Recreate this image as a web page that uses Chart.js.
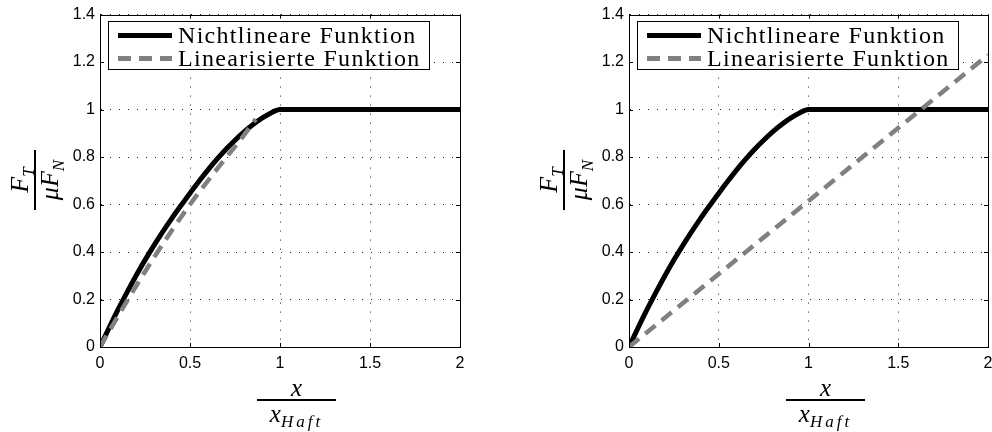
<!DOCTYPE html>
<html>
<head>
<meta charset="utf-8">
<script src="https://cdn.jsdelivr.net/npm/chart.js@4"></script>
<style>
  html,body{margin:0;padding:0;background:#fff;}
  body{width:992px;height:432px;overflow:hidden;position:relative;}
  canvas{position:absolute;top:0;}
  .leg{position:absolute;border:1px solid #000;background:#fff;width:322px;height:49px;box-sizing:border-box;
       font-family:'Liberation Serif','Times New Roman',serif;font-size:24px;color:#000;}
  .leg .s{position:absolute;left:9px;width:54px;height:5px;}
  .leg .s1{background:#000;}
  .leg .s2{background:repeating-linear-gradient(to right,#808080 0 13px,transparent 13px 21px);}
  .leg .t{position:absolute;left:69px;height:24px;line-height:24px;white-space:nowrap;letter-spacing:1.3px;}
  .frac{position:absolute;font-family:'Liberation Serif','Times New Roman',serif;font-style:italic;color:#000;text-align:center;}
  .frac .bar{background:#000;height:2px;}
  .frac sub{font-size:17px;vertical-align:-6px;}
  .yt{width:60px;height:58px;transform:rotate(-90deg);}
  .yt .num,.yt .den{height:28px;line-height:28px;font-size:26px;white-space:nowrap;}
  .xt{width:79px;}
  .xt .num{height:22px;line-height:22px;font-size:25px;}
  .xt .den{height:26px;line-height:26px;font-size:25px;white-space:nowrap;}
  .xt .den sub{letter-spacing:3px;font-size:17px;vertical-align:-5px;}
</style>
</head>
<body>
<canvas id="c1" width="496" height="432" style="left:0;"></canvas>
<canvas id="c2" width="520" height="432" style="left:496px;"></canvas>

<div class="leg" style="left:108px;top:21px;">
  <div class="s s1" style="top:11px;"></div><div class="t" style="top:1px;">Nichtlineare Funktion</div>
  <div class="s s2" style="top:34px;"></div><div class="t" style="top:24px;">Linearisierte Funktion</div>
</div>
<div class="leg" style="left:637px;top:21px;">
  <div class="s s1" style="top:11px;"></div><div class="t" style="top:1px;">Nichtlineare Funktion</div>
  <div class="s s2" style="top:34px;"></div><div class="t" style="top:24px;">Linearisierte Funktion</div>
</div>

<div class="frac yt" style="left:5px;top:151px;">
  <div class="num">F<sub>T</sub></div><div class="bar"></div><div class="den">μF<sub>N</sub></div>
</div>
<div class="frac yt" style="left:534px;top:151px;">
  <div class="num">F<sub>T</sub></div><div class="bar"></div><div class="den">μF<sub>N</sub></div>
</div>

<div class="frac xt" style="left:257px;top:377px;">
  <div class="num">x</div><div class="bar"></div><div class="den">x<sub>Haft</sub></div>
</div>
<div class="frac xt" style="left:786px;top:377px;">
  <div class="num">x</div><div class="bar"></div><div class="den">x<sub>Haft</sub></div>
</div>

<script>
// ---- data ----
const xNonlin = [0, 0.05, 0.1, 0.15, 0.2, 0.25, 0.3, 0.35, 0.4, 0.45, 0.5, 0.55, 0.6, 0.65, 0.7, 0.75, 0.8, 0.85, 0.9, 0.95, 1.0, 2.0];
const yNonlin = [0, 0.080, 0.157, 0.230, 0.300, 0.366, 0.428, 0.487, 0.543, 0.596, 0.648, 0.698, 0.746, 0.791, 0.833, 0.871, 0.906, 0.937, 0.964, 0.986, 1.0, 1.0];

const xLinLeft = [0, 0.1, 0.2, 0.3, 0.4, 0.5, 0.6, 0.7, 0.8, 0.865];
const yLinLeft = [0, 0.13, 0.256, 0.377, 0.492, 0.600, 0.701, 0.797, 0.892, 0.96];

const xLinRight = [0, 2];
const yLinRight = [0, 1.23];

const xTicks = [0, 0.5, 1, 1.5, 2];
const xTickLabels = ['0', '0.5', '1', '1.5', '2'];
const yTicks = [0, 0.2, 0.4, 0.6, 0.8, 1.0, 1.2, 1.4];
const yTickLabels = ['0', '0.2', '0.4', '0.6', '0.8', '1', '1.2', '1.4'];

const seriesNames = ['Nichtlineare Funktion', 'Linearisierte Funktion'];

function pts(xs, ys) { return xs.map((x, i) => ({ x: x, y: ys[i] })); }

const frameTicks = {
  id: 'frameTicks',
  afterDraw(chart) {
    const ctx = chart.ctx, a = chart.chartArea;
    const sx = chart.scales.x, sy = chart.scales.y;
    ctx.save();
    ctx.strokeStyle = '#000';
    ctx.lineWidth = 1;
    ctx.beginPath();
    ctx.rect(Math.round(a.left) + 0.5, Math.round(a.top) + 0.5, Math.round(a.right - a.left), Math.round(a.bottom - a.top));
    const L = 4;
    xTicks.forEach(v => {
      const p = Math.round(sx.getPixelForValue(v)) + 0.5;
      ctx.moveTo(p, a.bottom); ctx.lineTo(p, a.bottom - L);
      ctx.moveTo(p, a.top); ctx.lineTo(p, a.top + L);
    });
    yTicks.forEach(v => {
      const p = Math.round(sy.getPixelForValue(v)) + 0.5;
      ctx.moveTo(a.left, p); ctx.lineTo(a.left + L, p);
      ctx.moveTo(a.right, p); ctx.lineTo(a.right - L, p);
    });
    ctx.stroke();
    ctx.restore();
  }
};

function makeChart(id, linX, linY, yAxisWidth, padRight) {
  return new Chart(document.getElementById(id), {
    type: 'line',
    data: {
      datasets: [
        {
          label: seriesNames[0],
          data: pts(xNonlin, yNonlin),
          borderColor: '#000',
          borderWidth: 5,
          pointRadius: 0,
          cubicInterpolationMode: 'monotone',
          order: 1
        },
        {
          label: seriesNames[1],
          data: pts(linX, linY),
          borderColor: '#808080',
          borderWidth: 4.5,
          borderDash: [13, 8],
          pointRadius: 0,
          cubicInterpolationMode: 'monotone',
          order: 0
        }
      ]
    },
    options: {
      responsive: false,
      animation: false,
      devicePixelRatio: 1,
      layout: { padding: { top: 13, right: padRight, bottom: 0, left: 0 } },
      plugins: { legend: { display: false }, tooltip: { enabled: false } },
      scales: {
        x: {
          type: 'linear', min: 0, max: 2,
          afterBuildTicks: s => { s.ticks = xTicks.map(v => ({ value: v })); },
          afterFit: s => { s.height = 85; },
          ticks: {
            padding: 7, color: '#000', maxRotation: 0,
            font: { family: "'Liberation Sans', Arial, sans-serif", size: 16 },
            callback: (v) => xTickLabels[xTicks.indexOf(v)]
          },
          grid: { color: '#222', lineWidth: 1, drawTicks: false },
          border: { display: true, color: '#000', width: 1, dash: [1, 8] }
        },
        y: {
          type: 'linear', min: 0, max: 1.4,
          afterBuildTicks: s => { s.ticks = yTicks.map(v => ({ value: v })); },
          afterFit: s => { s.width = yAxisWidth; },
          ticks: {
            padding: 5, color: '#000',
            font: { family: "'Liberation Sans', Arial, sans-serif", size: 16 },
            callback: (v) => {
              const i = yTicks.findIndex(t => Math.abs(t - v) < 1e-9);
              return i >= 0 ? yTickLabels[i] : '';
            }
          },
          grid: { color: '#222', lineWidth: 1, drawTicks: false },
          border: { display: true, color: '#000', width: 1, dash: [1, 8] }
        }
      }
    },
    plugins: [frameTicks]
  });
}

makeChart('c1', xLinLeft, yLinLeft, 100, 36);
makeChart('c2', xLinRight, yLinRight, 133, 28);
</script>
</body>
</html>
